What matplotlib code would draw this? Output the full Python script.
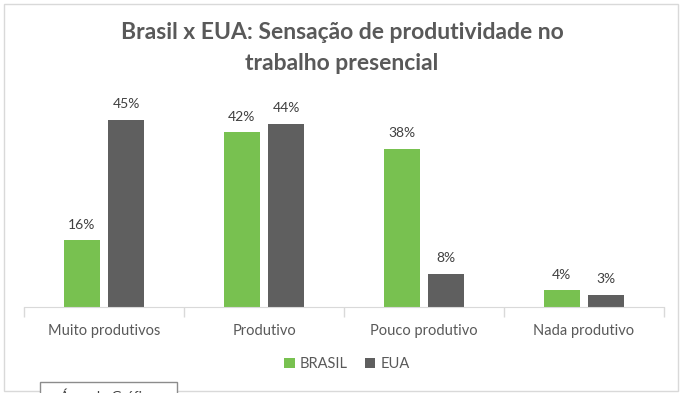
import matplotlib.pyplot as plt
from matplotlib.patches import Rectangle
import numpy as np

plt.rcParams['font.family'] = ['Lato', 'DejaVu Sans']

categories = ["Muito produtivos", "Produtivo", "Pouco produtivo", "Nada produtivo"]
brasil = [16, 42, 38, 4]
eua = [45, 44, 8, 3]
series_names = ["BRASIL", "EUA"]
title = "Brasil x EUA: Sensação de produtividade no\ntrabalho presencial"

green = "#78C150"
grey = "#5F5F5F"
text_grey = "#595959"
line_grey = "#D9D9D9"

W, H = 682, 393
fig = plt.figure(figsize=(W / 100, H / 100), dpi=100)

# chart area border
fig.patches.append(Rectangle((4 / W, 2 / H), 674 / W, 387 / H, transform=fig.transFigure,
                             fill=False, edgecolor=line_grey, lw=1))

ax = fig.add_axes([24 / W, (H - 307) / H, 640 / W, 208 / H])
x = np.arange(len(categories))
bw = 0.225
b1 = ax.bar(x - 0.14, brasil, bw, color=green, label=series_names[0])
b2 = ax.bar(x + 0.14, eua, bw, color=grey, label=series_names[1])

for bars, vals in [(b1, brasil), (b2, eua)]:
    for rect, v in zip(bars, vals):
        ax.annotate(f"{v}%", (rect.get_x() + rect.get_width() / 2, v),
                    xytext=(0, 7), textcoords="offset points",
                    ha="center", va="bottom", fontsize=10, color="#404040")

ax.set_xlim(-0.5, len(categories) - 0.5)
ax.set_ylim(0, 50)
ax.set_yticks([])
ax.set_xticks(x)
ax.set_xticklabels(categories, fontsize=10.5, color=text_grey)
ax.tick_params(axis="x", length=0, pad=12)
# category separator ticks
ax.set_xticks(np.arange(-0.5, len(categories)), minor=True)
ax.tick_params(axis="x", which="minor", length=7, color=line_grey, width=1)
for s in ["top", "right", "left"]:
    ax.spines[s].set_visible(False)
ax.spines["bottom"].set_color(line_grey)

fig.text(342 / W, 1 - 48 / H, title, ha="center", va="center", fontsize=16.5,
         fontweight="bold", color=text_grey, linespacing=1.55)

fig.legend(loc="center", bbox_to_anchor=(347 / W, 1 - 364 / H), ncol=2, frameon=False,
           fontsize=10.5, handlelength=0.7, handleheight=0.7, handletextpad=0.35,
           columnspacing=1.2, labelcolor=text_grey)

# tooltip box partly cut at the bottom
fig.patches.append(Rectangle((40 / W, -10 / H), 137 / W, 21 / H, transform=fig.transFigure,
                             facecolor="white", edgecolor="#8C8C8C", lw=1))
fig.text(60 / W, -4 / H, "Área do Gráfico", fontsize=10, color="#404040", va="center")

fig.savefig("out.png", dpi=100)
